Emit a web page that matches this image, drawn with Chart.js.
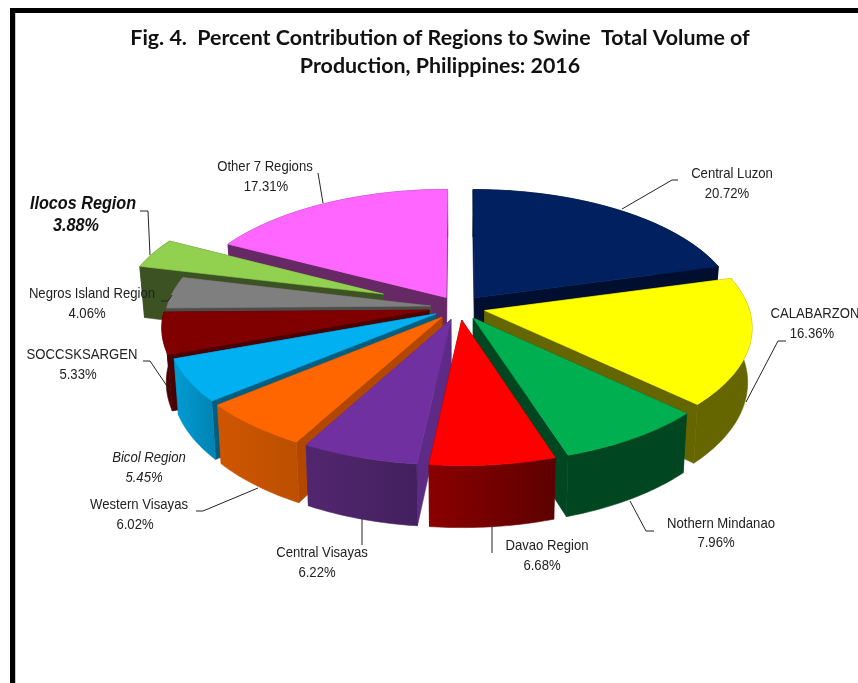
<!DOCTYPE html>
<html>
<head>
<meta charset="utf-8">
<title>Fig. 4</title>
<script src="https://cdn.jsdelivr.net/npm/chart.js@4"></script>
<style>
    html, body { margin: 0; padding: 0; background: #fff; }
    canvas { display: block; }
</style>
</head>
<body>
<canvas id="swineChart" width="858" height="683"></canvas>
<script>
const regions = ['Central Luzon', 'CALABARZON', 'Nothern Mindanao', 'Davao Region', 'Central Visayas',
    'Western Visayas', 'Bicol Region', 'SOCCSKSARGEN', 'Negros Island Region', 'Ilocos Region', 'Other 7 Regions'];
const shares = [20.72, 16.36, 7.96, 6.68, 6.22, 6.02, 5.45, 5.33, 4.06, 3.88, 17.31];
const titleLines = ['Fig. 4.  Percent Contribution of Regions to Swine  Total Volume of', 'Production, Philippines: 2016'];

const topColors = ['#002060', '#FFFF00', '#00B050', '#FF0000', '#7030A0', '#FF6600', '#00B0F0', '#800000', '#7F7F7F', '#92D050', '#FF66FF'];
const radialColors = ['#000F30', '#666600', '#004620', '#650000', '#5D2A85', '#B34700', '#005F80', '#4A0000', '#4C4C4C', '#3D5222', '#662966'];
const wallColors = ['#000F30', '#666600', '#004620', '#8A0000', '#52266F', '#CF5600', '#009CD4', '#4A0000', '#4C4C4C', '#3D5222', '#662966'];
const wallShade = ['#000F30', '#666600', '#004620', '#5E0000', '#43205F', '#BC4F00', '#0085B5', '#4A0000', '#4C4C4C', '#3D5222', '#662966'];
// how far each slice is pulled out, as a part of the radius
const explode = [0.1, 0.1, 0.1, 0.1, 0.1, 0.1, 0.1, 0.115, 0.108, 0.31, 0.095];

// label layout: centre of line 1, centre of line 2, leader polyline
const labelLayout = [
    { a: [732, 174], b: [727, 194], line: [[622, 209], [672, 180], [678, 180]] },
    { a: [815, 314], b: [812, 334], line: [[746, 402], [778, 341], [786, 341]] },
    { a: [721, 524], b: [716, 543], line: [[630, 501], [646, 531], [654, 531]] },
    { a: [547, 546], b: [542, 566], line: [[492, 527], [492, 553]] },
    { a: [322, 553], b: [317, 573], line: [[362, 519], [362, 545]] },
    { a: [139, 505], b: [135, 525], line: [[258, 488], [203, 511], [196, 511]] },
    { a: [149, 458], b: [144, 478], italic: true },
    { a: [82, 355], b: [78, 375], line: [[171, 392], [150, 361], [143, 361]] },
    { a: [92, 294], b: [87, 314], line: [[172, 295], [168, 301], [161, 301]] },
    { a: [83, 204], b: [76, 226], strong: true, line: [[150, 255], [148, 211], [140, 211]] },
    { a: [265, 167], b: [266, 187], line: [[323, 203], [318, 173]] }
];

// perspective of the pie plane
const view = { cx: 459, cy: 307.5, rx: 264, ry: 124, tilt: 0.125, depth: 53.5, shrink: 0.985 };

function project(m, n) {
    const w = 1 - view.tilt * n;
    return { x: view.cx + view.rx * m / w, y: view.cy + view.ry * n / w, w: w };
}

function lower(p) {
    return { x: view.cx + (p.x - view.cx) * view.shrink, y: p.y + view.depth / p.w };
}

function tracePath(ctx, pts) {
    ctx.beginPath();
    pts.forEach((p, i) => i ? ctx.lineTo(p.x, p.y) : ctx.moveTo(p.x, p.y));
    ctx.closePath();
}

function paint(ctx, pts, fill) {
    tracePath(ctx, pts);
    ctx.fillStyle = fill;
    ctx.strokeStyle = fill;
    ctx.lineWidth = 0.6;
    ctx.fill();
    ctx.stroke();
}

// narrow labels: Liberation Sans squeezed sideways
function narrowText(ctx, text, pos, squeeze) {
    ctx.save();
    ctx.translate(pos[0], pos[1]);
    ctx.scale(squeeze, 1);
    ctx.fillText(text, 0, 0);
    ctx.restore();
}

const pie3d = {
    id: 'pie3d',
    beforeDraw(chart) {
        const ctx = chart.ctx;
        ctx.save();
        ctx.fillStyle = '#000';
        ctx.fillRect(10, 8, 848, 5);
        ctx.fillRect(10, 8, 5, 675);
        ctx.fillStyle = '#c8c8c8';
        ctx.fillRect(15, 13, 1, 670);
        ctx.restore();
    },
    // the slices come from the library's arc elements, only the painting is projected
    beforeDatasetDraw(chart, args) {
        const ctx = chart.ctx;
        const arcs = args.meta.data;
        const order = arcs.map((arc, i) => i).sort((p, q) =>
            Math.sin((arcs[p].startAngle + arcs[p].endAngle) / 2) - Math.sin((arcs[q].startAngle + arcs[q].endAngle) / 2));
        order.forEach(i => {
            const arc = arcs[i];
            const mid = (arc.startAngle + arc.endAngle) / 2;
            const ox = Math.cos(mid) * explode[i];
            const oy = Math.sin(mid) * explode[i];
            const rim = [];
            const steps = Math.ceil((arc.endAngle - arc.startAngle) * 60);
            for (let s = 0; s <= steps; s++) {
                const a = arc.startAngle + (arc.endAngle - arc.startAngle) * s / steps;
                rim.push(project(Math.cos(a) + ox, Math.sin(a) + oy));
            }
            const tip = project(ox, oy);
            const first = rim[0];
            const last = rim[rim.length - 1];
            paint(ctx, [tip, first, lower(first), lower(tip)], radialColors[i]);
            paint(ctx, [tip, last, lower(last), lower(tip)], radialColors[i]);
            const left = Math.min(first.x, last.x);
            const right = Math.max(first.x, last.x);
            const grad = ctx.createLinearGradient(left, 0, right, 0);
            grad.addColorStop(0, wallColors[i]);
            grad.addColorStop(1, wallShade[i]);
            paint(ctx, rim.concat(rim.map(lower).reverse()), grad);
            paint(ctx, [tip].concat(rim), topColors[i]);
        });
        return false;
    },
    afterDraw(chart) {
        const ctx = chart.ctx;
        ctx.save();
        ctx.textAlign = 'center';
        ctx.textBaseline = 'middle';
        labelLayout.forEach((lab, i) => {
            if (lab.line) {
                ctx.beginPath();
                lab.line.forEach((p, k) => k ? ctx.lineTo(p[0], p[1]) : ctx.moveTo(p[0], p[1]));
                ctx.strokeStyle = '#222';
                ctx.lineWidth = 1;
                ctx.stroke();
            }
            ctx.fillStyle = lab.strong ? '#111' : '#222';
            ctx.font = lab.strong ? 'italic bold 18px "Liberation Sans"'
                : (lab.italic ? 'italic 15px "Liberation Sans"' : '15px "Liberation Sans"');
            const squeeze = lab.strong ? 0.9 : 0.875;
            narrowText(ctx, regions[i], lab.a, squeeze);
            narrowText(ctx, shares[i].toFixed(2) + '%', lab.b, squeeze);
        });
        ctx.restore();
    }
};

new Chart(document.getElementById('swineChart').getContext('2d'), {
    type: 'pie',
    plugins: [pie3d],
    data: {
        labels: regions,
        datasets: [{ data: shares, backgroundColor: topColors, borderWidth: 0 }]
    },
    options: {
        responsive: false,
        animation: false,
        events: [],
        layout: { padding: { left: 22, top: 0, right: 0, bottom: 0 } },
        plugins: {
            legend: { display: false },
            tooltip: { enabled: false },
            title: {
                display: true,
                text: titleLines,
                color: '#111',
                font: { family: 'Lato', size: 21.4, weight: 'bold', lineHeight: 1.27 },
                padding: { top: 25, bottom: 10 }
            }
        }
    }
});
</script>
</body>
</html>
